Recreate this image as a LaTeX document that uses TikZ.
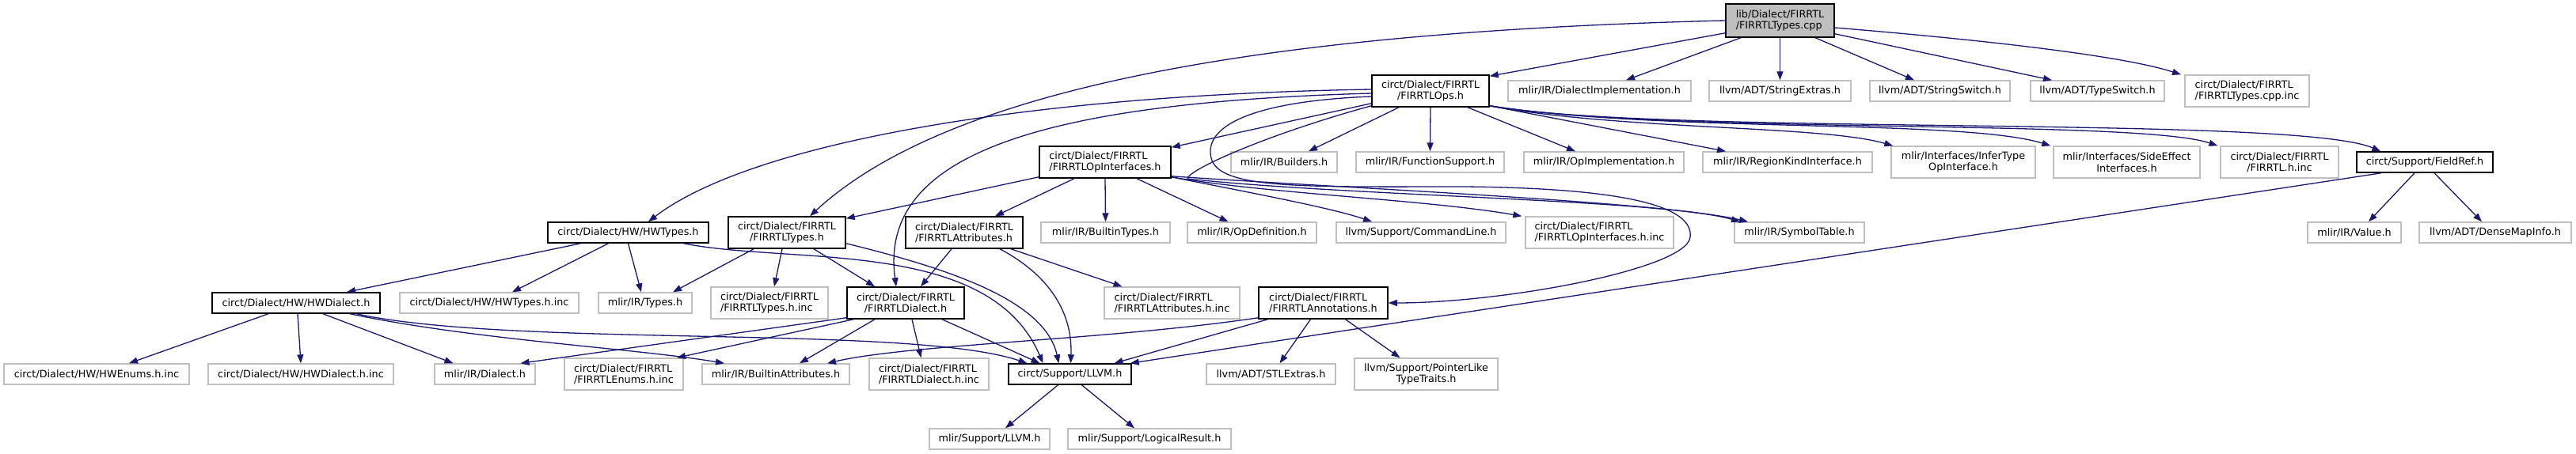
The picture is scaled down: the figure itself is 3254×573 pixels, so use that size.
\documentclass[tikz,border=0pt]{standalone}
\usepackage{fontspec}
\newfontfamily\dvs{DejaVu Sans}
\usetikzlibrary{arrows.meta}
\definecolor{eblue}{HTML}{191970}
\definecolor{lgray}{HTML}{BFBFBF}
\tikzset{
  nbase/.style={rectangle, inner sep=0pt, align=center, text=black, fill=white, font={\dvs\fontsize{12.8}{14.5}\selectfont}},
  inc/.style={nbase, draw=black, line width=1.5pt},
  lf/.style={nbase, draw=lgray, line width=1.4pt},
  one/.style={minimum height=26pt},
  two/.style={minimum height=40pt},
  ed/.style={draw=eblue, line width=1.3pt, -{Triangle[length=11pt,width=8pt]}},
}
\begin{document}
\begin{tikzpicture}[x=1pt,y=-1pt]
\fill[white] (0,0) rectangle (3254,573);
\useasboundingbox (0,0) rectangle (3254,573);
% row 0
\node[inc, fill=lgray, minimum height=42pt, minimum width=137pt, align=left] (root) at (2248.5,26) {lib/Dialect/FIRRTL\\/FIRRTLTypes.cpp};
% row 1
\node[inc,two,minimum width=148pt] (ops) at (1807,115) {circt/Dialect/FIRRTL\\/FIRRTLOps.h};
\node[lf,one,minimum width=231pt] (dimpl) at (2020.5,115) {mlir/IR/DialectImplementation.h};
\node[lf,one,minimum width=179pt] (strext) at (2248.5,115) {llvm/ADT/StringExtras.h};
\node[lf,one,minimum width=177pt] (strsw) at (2450.5,115) {llvm/ADT/StringSwitch.h};
\node[lf,one,minimum width=169pt] (typesw) at (2649.5,115) {llvm/ADT/TypeSwitch.h};
\node[lf,two,minimum width=157pt,align=left] (cppinc) at (2838.5,115) {circt/Dialect/FIRRTL\\/FIRRTLTypes.cpp.inc};
% row 2
\node[inc,two,minimum width=166pt,align=left] (opif) at (1396,205) {circt/Dialect/FIRRTL\\/FIRRTLOpInterfaces.h};
\node[lf,one,minimum width=134pt] (builders) at (1622,205) {mlir/IR/Builders.h};
\node[lf,one,minimum width=187pt] (funcsup) at (1806.5,205) {mlir/IR/FunctionSupport.h};
\node[lf,one,minimum width=202pt] (opimpl) at (2026,205) {mlir/IR/OpImplementation.h};
\node[lf,one,minimum width=214pt] (regkind) at (2258,205) {mlir/IR/RegionKindInterface.h};
\node[lf,two,minimum width=182pt] (infer) at (2480,205) {mlir/Interfaces/InferType\\OpInterface.h};
\node[lf,two,minimum width=185pt] (sideeff) at (2686.5,205) {mlir/Interfaces/SideEffect\\Interfaces.h};
\node[lf,two,minimum width=149pt] (firrtlinc) at (2879.5,205) {circt/Dialect/FIRRTL\\/FIRRTL.h.inc};
\node[inc,one,minimum width=172pt] (fieldref) at (3063,205) {circt/Support/FieldRef.h};
% row 3
\node[inc,one,minimum width=203pt] (hwtypes) at (793.5,294) {circt/Dialect/HW/HWTypes.h};
\node[inc,two,minimum width=148pt] (ftypes) at (994,294) {circt/Dialect/FIRRTL\\/FIRRTLTypes.h};
\node[inc,two,minimum width=148pt,align=left] (fattr) at (1218,294) {circt/Dialect/FIRRTL\\/FIRRTLAttributes.h};
\node[lf,one,minimum width=163pt] (btypes) at (1396.5,294) {mlir/IR/BuiltinTypes.h};
\node[lf,one,minimum width=163pt] (opdef) at (1581.5,294) {mlir/IR/OpDefinition.h};
\node[lf,one,minimum width=214pt] (cmdline) at (1795,294) {llvm/Support/CommandLine.h};
\node[lf,two,minimum width=187pt,align=left] (opifinc) at (2020.5,294) {circt/Dialect/FIRRTL\\/FIRRTLOpInterfaces.h.inc};
\node[lf,one,minimum width=164pt] (symtab) at (2273,294) {mlir/IR/SymbolTable.h};
\node[lf,one,minimum width=118pt] (value) at (2974,294) {mlir/IR/Value.h};
\node[lf,one,minimum width=192pt] (densemap) at (3152,294) {llvm/ADT/DenseMapInfo.h};
% row 4
\node[inc,one,minimum width=212pt] (hwdialect) at (374,383) {circt/Dialect/HW/HWDialect.h};
\node[lf,one,minimum width=226pt] (hwtypesinc) at (618,383) {circt/Dialect/HW/HWTypes.h.inc};
\node[lf,one,minimum width=118pt] (types) at (815,383) {mlir/IR/Types.h};
\node[lf,two,minimum width=148pt,align=left] (ftypesinc) at (972,383) {circt/Dialect/FIRRTL\\/FIRRTLTypes.h.inc};
\node[inc,two,minimum width=148pt] (fdialect) at (1144,383) {circt/Dialect/FIRRTL\\/FIRRTLDialect.h};
\node[lf,two,minimum width=171pt,align=left] (fattrinc) at (1480.5,383) {circt/Dialect/FIRRTL\\/FIRRTLAttributes.h.inc};
\node[inc,two,minimum width=163pt,align=left] (annot) at (1671.5,383) {circt/Dialect/FIRRTL\\/FIRRTLAnnotations.h};
% row 5
\node[lf,one,minimum width=234pt] (hwenums) at (122,473) {circt/Dialect/HW/HWEnums.h.inc};
\node[lf,one,minimum width=234pt] (hwdialectinc) at (380,473) {circt/Dialect/HW/HWDialect.h.inc};
\node[lf,one,minimum width=127pt] (dialect) at (612.5,473) {mlir/IR/Dialect.h};
\node[lf,two,minimum width=150pt,align=left] (fenums) at (788,473) {circt/Dialect/FIRRTL\\/FIRRTLEnums.h.inc};
\node[lf,one,minimum width=186pt] (battr) at (980,473) {mlir/IR/BuiltinAttributes.h};
\node[lf,two,minimum width=151pt,align=left] (fdialectinc) at (1173.5,473) {circt/Dialect/FIRRTL\\/FIRRTLDialect.h.inc};
\node[inc,one,minimum width=155pt] (llvm) at (1351.5,473) {circt/Support/LLVM.h};
\node[lf,one,minimum width=163pt] (stlextras) at (1605.5,473) {llvm/ADT/STLExtras.h};
\node[lf,two,minimum width=181pt] (ptrlike) at (1801.5,473) {llvm/Support/PointerLike\\TypeTraits.h};
% row 6
\node[lf,one,minimum width=152pt] (mllvm) at (1250,555) {mlir/Support/LLVM.h};
\node[lf,one,minimum width=206pt] (logres) at (1452,555) {mlir/Support/LogicalResult.h};

% edges from root
\draw[ed] ([yshift=6pt]root.south west) -- ([yshift=-2pt]ops.north east);
\draw[ed] ([xshift=-49.5pt]root.south) -- ([xshift=33.5pt]dimpl.north);
\draw[ed] (root.south) -- (strext.north);
\draw[ed] ([xshift=44.5pt]root.south) -- ([xshift=-32.5pt]strsw.north);
\draw[ed] ([yshift=5pt]root.south east) -- ([xshift=-57.5pt]typesw.north);
\draw[ed] ([yshift=-9pt]root.east) .. controls (2500,50) and (2680,70) .. ([xshift=-83.5pt]cppinc.north);
\draw[ed] (root.west) .. controls (1600,40) and (1200,110) .. ([xshift=29pt]ftypes.north);
% edges from ops
\draw[ed] ([yshift=2pt]ops.west) .. controls (1300,120) and (950,180) .. ([xshift=25.5pt]hwtypes.north);
\draw[ed] ([yshift=-3pt]ops.west) .. controls (1300,130) and (1110,200) .. ([xshift=-12pt]fdialect.north);
\draw[ed] ([yshift=5pt]ops.south west) -- ([yshift=-2pt]opif.north east);
\draw[ed] ([xshift=-40pt]ops.south) -- ([xshift=31pt]builders.north);
\draw[ed] (ops.south) -- (funcsup.north);
\draw[ed] ([xshift=47pt]ops.south) -- ([xshift=-36pt]opimpl.north);
\draw[ed] ([yshift=2pt]ops.south east) -- ([xshift=-78pt]regkind.north);
\draw[ed] ([yshift=2pt]ops.south east) .. controls (2050,165) and (2300,158) .. ([xshift=3pt]infer.north west);
\draw[ed] ([yshift=2pt]ops.south east) .. controls (2100,168) and (2480,150) .. ([xshift=-3pt]sideeff.north west);
\draw[ed] ([yshift=2pt]ops.south east) .. controls (2100,170) and (2700,150) .. ([xshift=-3pt]firrtlinc.north west);
\draw[ed] ([yshift=2pt]ops.south east) .. controls (2100,172) and (2900,145) .. ([xshift=31pt]fieldref.north west);
\draw[ed] ([yshift=-7pt]ops.west) .. controls (1580,128) and (1520,160) .. (1530,200)
   .. controls (1540,240) and (1650,236) .. (1850,236)
   .. controls (2050,238) and (2140,260) .. (2135,300)
   .. controls (2130,340) and (1900,383) .. (annot.east);
\draw[ed] ([yshift=2pt]ops.south west) .. controls (1600,170) and (1500,215) .. (1500,226)
   .. controls (1700,248) and (2100,252) .. ([xshift=-75pt]symtab.north);
% edges from opif
\draw[ed] ([yshift=2pt]opif.south west) -- ([yshift=-3pt]ftypes.north east);
\draw[ed] ([xshift=-39pt]opif.south) -- ([xshift=39pt]fattr.north);
\draw[ed] (opif.south) -- (btypes.north);
\draw[ed] ([xshift=40pt]opif.south) -- ([xshift=-30pt]opdef.north);
\draw[ed] ([yshift=2pt]opif.south east) .. controls (1560,240) and (1680,262) .. ([xshift=-62pt]cmdline.north);
\draw[ed] ([yshift=2pt]opif.south east) .. controls (1600,245) and (1800,252) .. ([xshift=-4pt]opifinc.north west);
\draw[ed] ([yshift=3pt]opif.south east) .. controls (1700,238) and (2100,255) .. ([xshift=-65pt]symtab.north);
% fieldref
\draw[ed] ([xshift=-13pt]fieldref.south) -- ([xshift=18pt]value.north);
\draw[ed] ([xshift=12pt]fieldref.south) -- ([xshift=-17pt]densemap.north);
\draw[ed] ([xshift=-55pt]fieldref.south) -- ([xshift=-2pt]llvm.north east);
% hwtypes
\draw[ed] ([xshift=-60pt]hwtypes.south) -- ([xshift=64pt]hwdialect.north);
\draw[ed] ([xshift=-25pt]hwtypes.south) -- ([xshift=29pt]hwtypesinc.north);
\draw[ed] (hwtypes.south) -- ([xshift=-5pt]types.north);
\draw[ed] ([xshift=70pt]hwtypes.south) .. controls (1000,335) and (1250,300) .. ([xshift=-34pt]llvm.north);
% ftypes
\draw[ed] ([xshift=-42pt]ftypes.south) -- ([xshift=35pt]types.north);
\draw[ed] ([xshift=-6pt]ftypes.south) -- ([xshift=6pt]ftypesinc.north);
\draw[ed] ([xshift=34pt]ftypes.south) -- ([xshift=-39pt]fdialect.north);
\draw[ed] ([yshift=7pt]ftypes.south east) .. controls (1200,340) and (1320,380) .. ([xshift=-14pt]llvm.north);
% fattr
\draw[ed] ([xshift=-16pt]fattr.south) -- ([xshift=19pt]fdialect.north);
\draw[ed] ([xshift=45pt]fattr.south) .. controls (1320,345) and (1355,390) .. ([xshift=1pt]llvm.north);
\draw[ed] ([xshift=59pt]fattr.south) -- ([xshift=-63pt]fattrinc.north);
% hwdialect
\draw[ed] ([xshift=-35pt]hwdialect.south) -- ([xshift=41pt]hwenums.north);
\draw[ed] ([xshift=2pt]hwdialect.south) -- (hwdialectinc.north);
\draw[ed] ([xshift=34pt]hwdialect.south) -- ([xshift=-40pt]dialect.north);
\draw[ed] ([xshift=68pt]hwdialect.south) .. controls (600,430) and (800,440) .. ([xshift=-65pt]battr.north);
\draw[ed] ([xshift=76pt]hwdialect.south) .. controls (650,440) and (1150,410) .. ([xshift=-54pt]llvm.north);
% fdialect
\draw[ed] ([yshift=2pt]fdialect.south west) -- ([xshift=45pt]dialect.north);
\draw[ed] ([xshift=-66pt]fdialect.south) -- ([xshift=67pt]fenums.north);
\draw[ed] ([xshift=-39pt]fdialect.south) -- ([xshift=30pt]battr.north);
\draw[ed] ([xshift=8pt]fdialect.south) -- ([xshift=-10pt]fdialectinc.north);
\draw[ed] ([xshift=46pt]fdialect.south) -- ([xshift=-38pt]llvm.north);
% annot
\draw[ed] ([yshift=2pt]annot.south west) .. controls (1400,430) and (1150,435) .. ([xshift=65pt]battr.north);
\draw[ed] ([xshift=-70pt]annot.south) -- ([xshift=56pt]llvm.north);
\draw[ed] ([xshift=-16pt]annot.south) -- ([xshift=11pt]stlextras.north);
\draw[ed] ([xshift=28pt]annot.south) -- ([xshift=-33pt]ptrlike.north);
% llvm
\draw[ed] ([xshift=-15pt]llvm.south) -- ([xshift=20pt]mllvm.north);
\draw[ed] ([xshift=15pt]llvm.south) -- ([xshift=-19pt]logres.north);
\end{tikzpicture}
\end{document}
